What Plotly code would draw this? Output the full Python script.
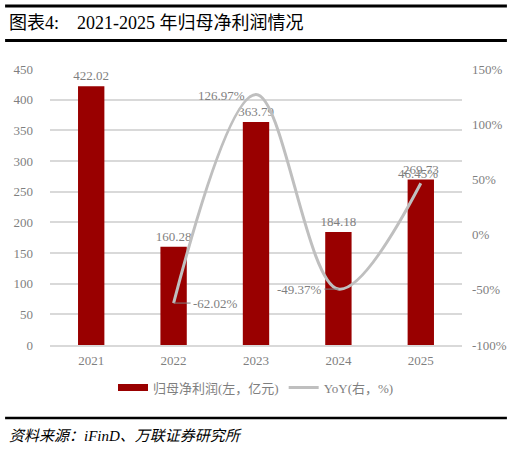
import plotly.graph_objects as go

years = ["2021", "2022", "2023", "2024", "2025"]
profit = [422.02, 160.28, 363.79, 184.18, 269.73]
yoy_years = ["2022", "2023", "2024", "2025"]
yoy = [-62.02, 126.97, -49.37, 46.45]

left_ticks = [0, 50, 100, 150, 200, 250, 300, 350, 400, 450]
right_ticks = [-100, -50, 0, 50, 100, 150]

BAR_RED = "#990000"
LINE_GREY = "#BFBFBF"
TEXT_GREY = "#7F7F7F"
SERIF = "Liberation Serif, Noto Sans CJK SC, serif"

fig = go.Figure()

fig.add_trace(
    go.Bar(
        x=years,
        y=profit,
        name="归母净利润(左，亿元)",
        marker=dict(color=BAR_RED, line=dict(width=0)),
        text=[f"{v:.2f}" for v in profit],
        textposition="outside",
        constraintext="none",
        textfont=dict(family=SERIF, size=13, color=TEXT_GREY),
        cliponaxis=False,
        showlegend=False,
    )
)
# legend entry drawn as a wide red block, as in the original
fig.add_trace(
    go.Scatter(
        x=[None], y=[None], mode="lines",
        name="归母净利润(左，亿元)",
        line=dict(color=BAR_RED, width=7),
    )
)

fig.add_trace(
    go.Scatter(
        x=yoy_years,
        y=yoy,
        yaxis="y2",
        name="YoY(右，%)",
        mode="lines",
        line=dict(color=LINE_GREY, width=3, shape="spline", smoothing=1.0),
        cliponaxis=False,
    )
)

# labels for the YoY line; the two lows get short leader lines like the original
for yr, val in zip(yoy_years, yoy):
    idx = years.index(yr)
    common = dict(
        x=idx, y=val, xref="x", yref="y2",
        text=f"{val:.2f}%",
        font=dict(family=SERIF, size=13, color=TEXT_GREY),
    )
    if yr == "2022":
        fig.add_annotation(**common, showarrow=True, arrowhead=0, arrowwidth=1,
                           arrowcolor=TEXT_GREY, ax=17, ay=0, xanchor="left")
    elif yr == "2024":
        fig.add_annotation(**common, showarrow=True, arrowhead=0, arrowwidth=1,
                           arrowcolor=TEXT_GREY, ax=-14, ay=0, xanchor="right")
    elif yr == "2023":
        fig.add_annotation(**common, showarrow=False, xanchor="right", xshift=-9, yshift=-1)
    else:
        fig.add_annotation(**common, showarrow=False, xanchor="center", xshift=-3, yshift=10)

# title band and source footer
fig.add_shape(type="line", xref="paper", yref="paper", x0=-0.109, x1=1.109,
              y0=(345 - 6) / 276, y1=(345 - 6) / 276, line=dict(color="black", width=3))
fig.add_shape(type="line", xref="paper", yref="paper", x0=-0.109, x1=1.109,
              y0=(345 - 40.5) / 276, y1=(345 - 40.5) / 276, line=dict(color="black", width=3))
fig.add_shape(type="line", xref="paper", yref="paper", x0=-0.109, x1=1.109,
              y0=(345 - 418) / 276, y1=(345 - 418) / 276, line=dict(color="black", width=2.5))

fig.add_annotation(
    xref="paper", yref="paper", x=(7 - 50) / 412, y=(345 - 23) / 276,
    xanchor="left", yanchor="middle", showarrow=False,
    text="图表4:    2021-2025 年归母净利润情况",
    font=dict(family=SERIF, size=18, color="black"),
)
fig.add_annotation(
    xref="paper", yref="paper", x=(7 - 50) / 412, y=(345 - 436) / 276,
    xanchor="left", yanchor="middle", showarrow=False,
    text="<i>资料来源：iFinD、万联证券研究所</i>",
    font=dict(family=SERIF, size=15, color="black"),
)

fig.update_layout(
    width=512,
    height=449,
    margin=dict(l=50, r=50, t=69, b=104),
    paper_bgcolor="white",
    plot_bgcolor="white",
    bargap=0.68,
    showlegend=True,
    legend=dict(
        orientation="h", x=0.5, xanchor="center", y=-0.1, yanchor="top",
        font=dict(family=SERIF, size=13, color=TEXT_GREY),
        itemwidth=30, tracegroupgap=0,
    ),
    xaxis=dict(
        type="category",
        range=[-0.5, 4.5],
        showgrid=False,
        showline=True, linecolor="#D9D9D9", linewidth=1.5,
        ticks="",
        tickfont=dict(family=SERIF, size=13, color=TEXT_GREY),
        ticklabelstandoff=3,
        automargin=False,
    ),
    yaxis=dict(
        range=[0, 450],
        tickvals=left_ticks,
        showgrid=True, gridcolor="#D9D9D9", gridwidth=1.5,
        zeroline=False, showline=False, ticks="",
        tickfont=dict(family=SERIF, size=13, color=TEXT_GREY),
        ticklabelstandoff=16,
        automargin=False,
    ),
    yaxis2=dict(
        overlaying="y", side="right",
        range=[-100, 150],
        tickvals=right_ticks,
        ticktext=[f"{v}%" for v in right_ticks],
        showgrid=False, zeroline=False, showline=False, ticks="",
        tickfont=dict(family=SERIF, size=13, color=TEXT_GREY),
        ticklabelstandoff=9,
        automargin=False,
    ),
)

# the default page has an 8px body margin; drop it so the chart sits at the window corner
fig.write_html(
    "out.html",
    config={"displayModeBar": False},
    post_script="document.body.style.margin='0';",
)
